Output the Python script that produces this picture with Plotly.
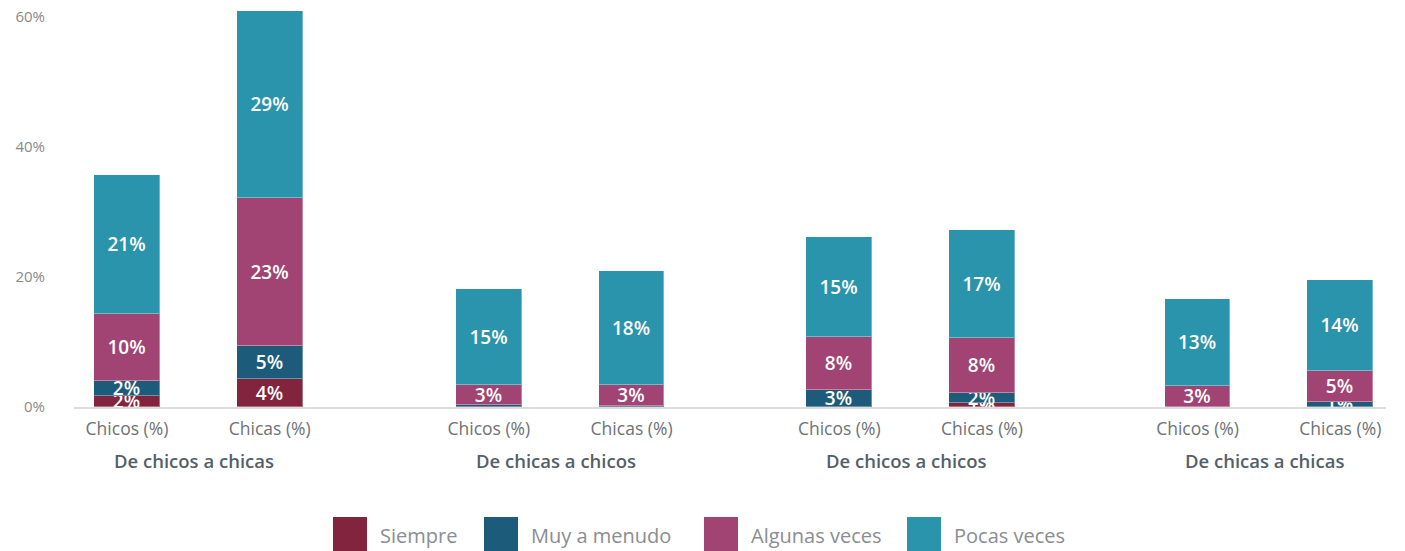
import plotly.graph_objects as go

# ---- data ----
groups = ["De chicos a chicas", "De chicas a chicos", "De chicos a chicos", "De chicas a chicas"]
subcats = ["Chicos (%)", "Chicas (%)"]
series_names = ["Siempre", "Muy a menudo", "Algunas veces", "Pocas veces"]
siempre = [1.65, 4.3, 0.0, 0.0, 0.0, 0.6, 0.0, 0.0]
muy_a_menudo = [2.4, 5.1, 0.3, 0.15, 2.6, 1.6, 0.0, 0.8]
algunas_veces = [10.3, 22.7, 3.1, 3.2, 8.2, 8.4, 3.3, 4.7]
pocas_veces = [21.3, 28.8, 14.8, 17.6, 15.4, 16.6, 13.3, 14.0]
y_ticks = [0, 20, 40, 60]
y_ticklabels = ["0%", "20%", "40%", "60%"]

# ---- style ----
colors = ["#82243e", "#1d5b7b", "#a14473", "#2a94ad"]
FONT = "Open Sans"
W, H = 1405, 551
ML, MR, MT, MB = 74, 19, 5, 144
GROUP_STARTS = [0.0, 2.535, 4.99, 7.5]   # layout: group offsets on the x scale

xs, ticktext = [], []
for gi, g in enumerate(groups):
    for si, s in enumerate(subcats):
        xs.append(GROUP_STARTS[gi] + si)
        ticktext.append(s)

def lab(v):
    r = int(v + 0.5)
    return f"{r}%" if r >= 1 else ""

fig = go.Figure()
for name, vals, col in zip(series_names, [siempre, muy_a_menudo, algunas_veces, pocas_veces], colors):
    fig.add_trace(go.Bar(
        x=xs, y=vals, name=name, width=0.46,
        marker=dict(color=col, line=dict(color="rgba(255,255,255,0.35)", width=1)),
        text=[lab(v) for v in vals], textposition="inside", insidetextanchor="middle",
        textfont=dict(family=FONT, size=19, color="white", weight=600),
        showlegend=False, hoverinfo="skip",
    ))

plot_w = W - ML - MR
plot_h = H - MT - MB

def px_x(p):
    return (p - ML) / plot_w

def px_y(p):
    return (H - MB - p) / plot_h

annotations = []
for gi, g in enumerate(groups):
    annotations.append(dict(
        x=GROUP_STARTS[gi] + 0.47, xref="x", y=px_y(460), yref="paper",
        text=g, showarrow=False, xanchor="center", yanchor="middle",
        font=dict(family=FONT, size=18.5, color="#555f69", weight=600),
    ))

# custom legend (big square swatches)
legend_swatch_left = [333, 484, 704, 907]
shapes = []
for name, col, left in zip(series_names, colors, legend_swatch_left):
    shapes.append(dict(type="rect", xref="paper", yref="paper",
                       x0=px_x(left), x1=px_x(left + 34), y0=px_y(551), y1=px_y(517),
                       fillcolor=col, line=dict(width=0)))
    annotations.append(dict(x=px_x(left + 45), xref="paper", y=px_y(535), yref="paper",
                            text=name, showarrow=False, xanchor="left", yanchor="middle",
                            font=dict(family=FONT, size=20, color="#8a8d91")))

fig.update_layout(
    width=W, height=H,
    margin=dict(l=ML, r=MR, t=MT, b=MB),
    plot_bgcolor="white", paper_bgcolor="white",
    barmode="stack", bargap=0,
    uniformtext=dict(minsize=19, mode="show"),
    font=dict(family=FONT),
    xaxis=dict(range=[-0.371, 8.82], tickvals=xs, ticktext=ticktext, ticks="",
               showline=True, linecolor="#dcdcdc", linewidth=1.5, showgrid=False, zeroline=False,
               tickfont=dict(family=FONT, size=17.5, color="#6e7276"), ticklabelstandoff=5, fixedrange=True),
    yaxis=dict(range=[0, 61.8], tickmode="array", tickvals=y_ticks, ticktext=y_ticklabels,
               showgrid=False, zeroline=False,
               showline=False, ticks="", tickfont=dict(family=FONT, size=15, color="#8a8a8a"),
               ticklabelstandoff=28, fixedrange=True),
    annotations=annotations, shapes=shapes,
)

fig.write_html("out.html", config={"displayModeBar": False},
               post_script="document.body.style.margin='0';document.body.style.overflow='hidden';")
